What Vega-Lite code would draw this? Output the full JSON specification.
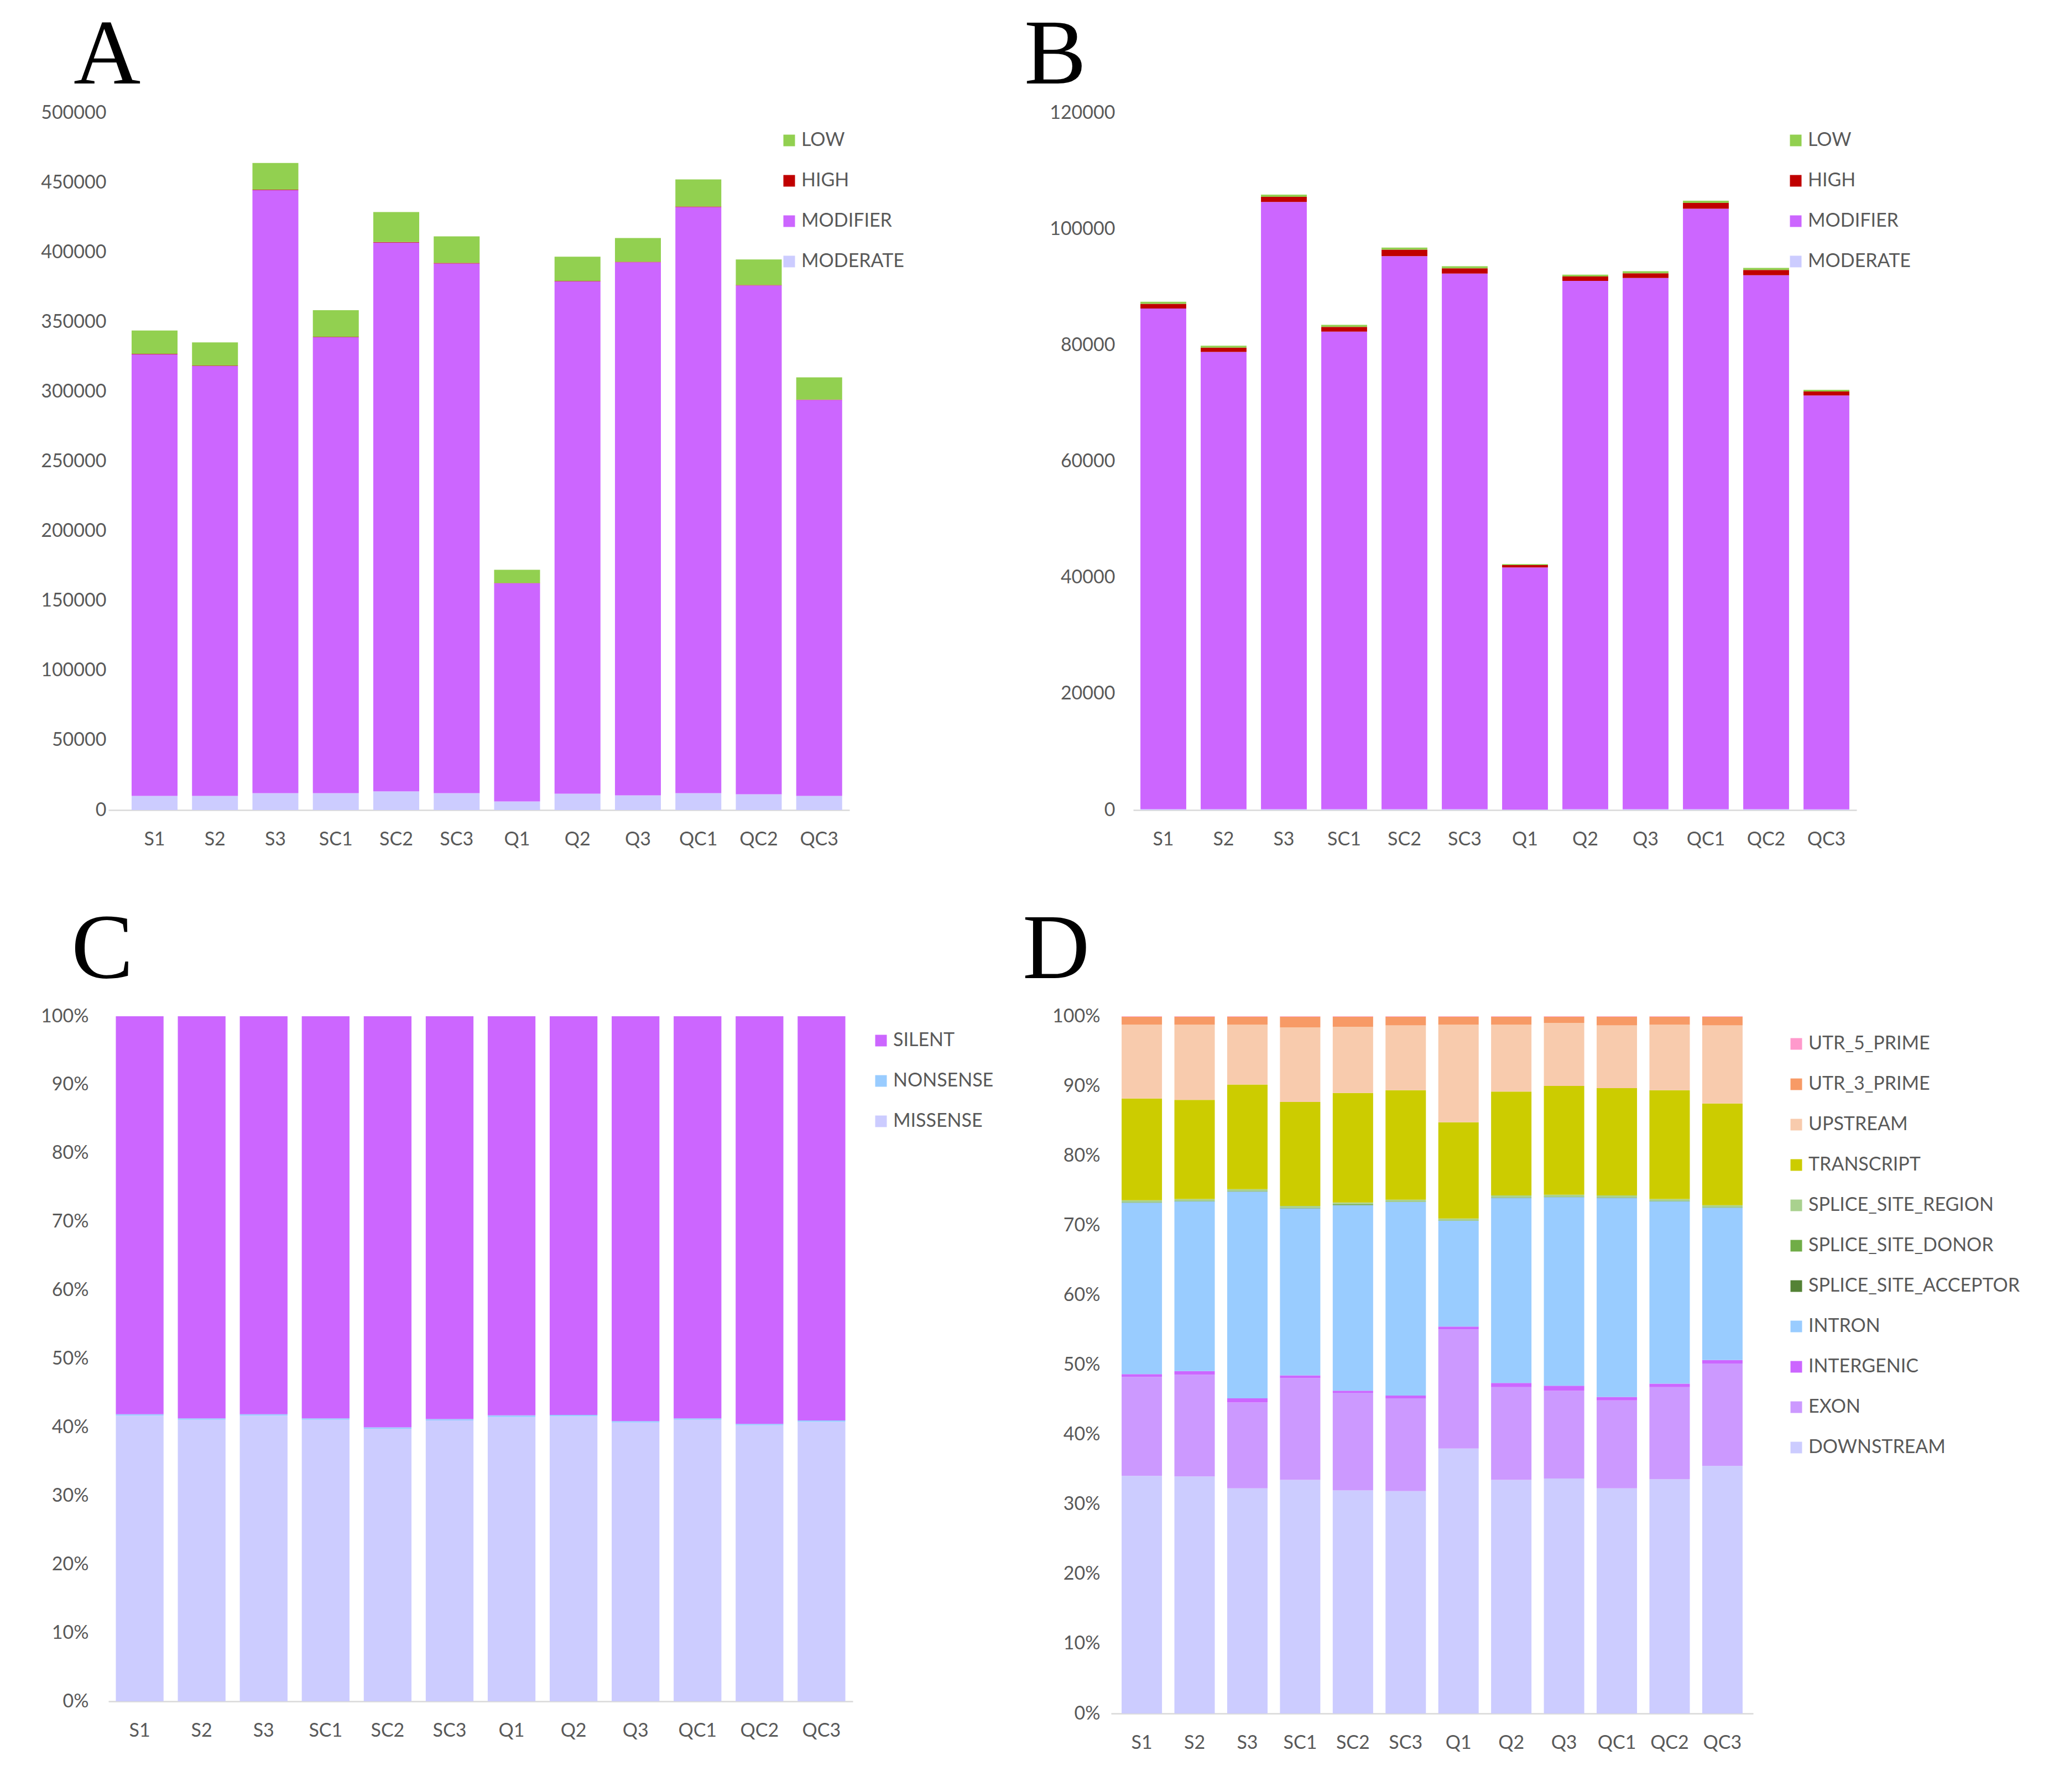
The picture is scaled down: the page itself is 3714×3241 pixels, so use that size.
{
"$schema": "https://vega.github.io/schema/vega-lite/v6.json",
"background": "white",
"padding": {"left": 0, "top": 17, "right": 0, "bottom": 0},
"datasets": {
"A": [
{"sample":"S1","impact":"MODERATE","n":10100},{"sample":"S1","impact":"MODIFIER","n":316750},{"sample":"S1","impact":"HIGH","n":300},{"sample":"S1","impact":"LOW","n":16690},
{"sample":"S2","impact":"MODERATE","n":10100},{"sample":"S2","impact":"MODIFIER","n":308270},{"sample":"S2","impact":"HIGH","n":300},{"sample":"S2","impact":"LOW","n":16690},
{"sample":"S3","impact":"MODERATE","n":12100},{"sample":"S3","impact":"MODIFIER","n":432480},{"sample":"S3","impact":"HIGH","n":350},{"sample":"S3","impact":"LOW","n":19070},
{"sample":"SC1","impact":"MODERATE","n":12100},{"sample":"SC1","impact":"MODIFIER","n":326900},{"sample":"SC1","impact":"HIGH","n":300},{"sample":"SC1","impact":"LOW","n":19110},
{"sample":"SC2","impact":"MODERATE","n":13350},{"sample":"SC2","impact":"MODIFIER","n":393600},{"sample":"SC2","impact":"HIGH","n":350},{"sample":"SC2","impact":"LOW","n":21500},
{"sample":"SC3","impact":"MODERATE","n":12100},{"sample":"SC3","impact":"MODIFIER","n":379900},{"sample":"SC3","impact":"HIGH","n":350},{"sample":"SC3","impact":"LOW","n":19070},
{"sample":"Q1","impact":"MODERATE","n":6100},{"sample":"Q1","impact":"MODIFIER","n":156500},{"sample":"Q1","impact":"HIGH","n":150},{"sample":"Q1","impact":"LOW","n":9560},
{"sample":"Q2","impact":"MODERATE","n":11700},{"sample":"Q2","impact":"MODIFIER","n":367350},{"sample":"Q2","impact":"HIGH","n":300},{"sample":"Q2","impact":"LOW","n":17500},
{"sample":"Q3","impact":"MODERATE","n":10500},{"sample":"Q3","impact":"MODIFIER","n":382300},{"sample":"Q3","impact":"HIGH","n":300},{"sample":"Q3","impact":"LOW","n":17090},
{"sample":"QC1","impact":"MODERATE","n":12100},{"sample":"QC1","impact":"MODIFIER","n":420340},{"sample":"QC1","impact":"HIGH","n":350},{"sample":"QC1","impact":"LOW","n":19470},
{"sample":"QC2","impact":"MODERATE","n":11300},{"sample":"QC2","impact":"MODIFIER","n":364900},{"sample":"QC2","impact":"HIGH","n":300},{"sample":"QC2","impact":"LOW","n":18300},
{"sample":"QC3","impact":"MODERATE","n":10100},{"sample":"QC3","impact":"MODIFIER","n":284000},{"sample":"QC3","impact":"HIGH","n":250},{"sample":"QC3","impact":"LOW","n":15930}
],
"B": [
{"sample":"S1","impact":"MODERATE","n":150},{"sample":"S1","impact":"MODIFIER","n":86160},{"sample":"S1","impact":"HIGH","n":800},{"sample":"S1","impact":"LOW","n":365},
{"sample":"S2","impact":"MODERATE","n":150},{"sample":"S2","impact":"MODIFIER","n":78690},{"sample":"S2","impact":"HIGH","n":750},{"sample":"S2","impact":"LOW","n":318},
{"sample":"S3","impact":"MODERATE","n":150},{"sample":"S3","impact":"MODIFIER","n":104510},{"sample":"S3","impact":"HIGH","n":880},{"sample":"S3","impact":"LOW","n":380},
{"sample":"SC1","impact":"MODERATE","n":150},{"sample":"SC1","impact":"MODIFIER","n":82180},{"sample":"SC1","impact":"HIGH","n":820},{"sample":"SC1","impact":"LOW","n":345},
{"sample":"SC2","impact":"MODERATE","n":150},{"sample":"SC2","impact":"MODIFIER","n":95190},{"sample":"SC2","impact":"HIGH","n":1100},{"sample":"SC2","impact":"LOW","n":357},
{"sample":"SC3","impact":"MODERATE","n":150},{"sample":"SC3","impact":"MODIFIER","n":92180},{"sample":"SC3","impact":"HIGH","n":900},{"sample":"SC3","impact":"LOW","n":362},
{"sample":"Q1","impact":"MODERATE","n":80},{"sample":"Q1","impact":"MODIFIER","n":41670},{"sample":"Q1","impact":"HIGH","n":400},{"sample":"Q1","impact":"LOW","n":183},
{"sample":"Q2","impact":"MODERATE","n":150},{"sample":"Q2","impact":"MODIFIER","n":90920},{"sample":"Q2","impact":"HIGH","n":760},{"sample":"Q2","impact":"LOW","n":308},
{"sample":"Q3","impact":"MODERATE","n":150},{"sample":"Q3","impact":"MODIFIER","n":91410},{"sample":"Q3","impact":"HIGH","n":820},{"sample":"Q3","impact":"LOW","n":345},
{"sample":"QC1","impact":"MODERATE","n":150},{"sample":"QC1","impact":"MODIFIER","n":103350},{"sample":"QC1","impact":"HIGH","n":980},{"sample":"QC1","impact":"LOW","n":379},
{"sample":"QC2","impact":"MODERATE","n":150},{"sample":"QC2","impact":"MODIFIER","n":91890},{"sample":"QC2","impact":"HIGH","n":900},{"sample":"QC2","impact":"LOW","n":363},
{"sample":"QC3","impact":"MODERATE","n":120},{"sample":"QC3","impact":"MODIFIER","n":71240},{"sample":"QC3","impact":"HIGH","n":680},{"sample":"QC3","impact":"LOW","n":291}
],
"C": [
{"sample":"S1","effect":"MISSENSE","p":41.7},{"sample":"S1","effect":"NONSENSE","p":0.2},{"sample":"S1","effect":"SILENT","p":58.1},
{"sample":"S2","effect":"MISSENSE","p":41.1},{"sample":"S2","effect":"NONSENSE","p":0.2},{"sample":"S2","effect":"SILENT","p":58.7},
{"sample":"S3","effect":"MISSENSE","p":41.7},{"sample":"S3","effect":"NONSENSE","p":0.2},{"sample":"S3","effect":"SILENT","p":58.1},
{"sample":"SC1","effect":"MISSENSE","p":41.1},{"sample":"SC1","effect":"NONSENSE","p":0.2},{"sample":"SC1","effect":"SILENT","p":58.7},
{"sample":"SC2","effect":"MISSENSE","p":39.8},{"sample":"SC2","effect":"NONSENSE","p":0.2},{"sample":"SC2","effect":"SILENT","p":60.0},
{"sample":"SC3","effect":"MISSENSE","p":41.0},{"sample":"SC3","effect":"NONSENSE","p":0.2},{"sample":"SC3","effect":"SILENT","p":58.8},
{"sample":"Q1","effect":"MISSENSE","p":41.5},{"sample":"Q1","effect":"NONSENSE","p":0.25},{"sample":"Q1","effect":"SILENT","p":58.25},
{"sample":"Q2","effect":"MISSENSE","p":41.6},{"sample":"Q2","effect":"NONSENSE","p":0.2},{"sample":"Q2","effect":"SILENT","p":58.2},
{"sample":"Q3","effect":"MISSENSE","p":40.7},{"sample":"Q3","effect":"NONSENSE","p":0.2},{"sample":"Q3","effect":"SILENT","p":59.1},
{"sample":"QC1","effect":"MISSENSE","p":41.1},{"sample":"QC1","effect":"NONSENSE","p":0.2},{"sample":"QC1","effect":"SILENT","p":58.7},
{"sample":"QC2","effect":"MISSENSE","p":40.3},{"sample":"QC2","effect":"NONSENSE","p":0.2},{"sample":"QC2","effect":"SILENT","p":59.5},
{"sample":"QC3","effect":"MISSENSE","p":40.8},{"sample":"QC3","effect":"NONSENSE","p":0.2},{"sample":"QC3","effect":"SILENT","p":59.0}
],
"D": [
{"sample":"S1","region":"DOWNSTREAM","p":34.1},{"sample":"S1","region":"EXON","p":14.2},{"sample":"S1","region":"INTERGENIC","p":0.4},{"sample":"S1","region":"INTRON","p":24.6},{"sample":"S1","region":"SPLICE_SITE_ACCEPTOR","p":0.03},{"sample":"S1","region":"SPLICE_SITE_DONOR","p":0.04},{"sample":"S1","region":"SPLICE_SITE_REGION","p":0.28},{"sample":"S1","region":"TRANSCRIPT","p":14.6},{"sample":"S1","region":"UPSTREAM","p":10.6},{"sample":"S1","region":"UTR_3_PRIME","p":1.15},{"sample":"S1","region":"UTR_5_PRIME","p":0.05},
{"sample":"S2","region":"DOWNSTREAM","p":34.0},{"sample":"S2","region":"EXON","p":14.6},{"sample":"S2","region":"INTERGENIC","p":0.5},{"sample":"S2","region":"INTRON","p":24.35},{"sample":"S2","region":"SPLICE_SITE_ACCEPTOR","p":0.03},{"sample":"S2","region":"SPLICE_SITE_DONOR","p":0.04},{"sample":"S2","region":"SPLICE_SITE_REGION","p":0.28},{"sample":"S2","region":"TRANSCRIPT","p":14.2},{"sample":"S2","region":"UPSTREAM","p":10.8},{"sample":"S2","region":"UTR_3_PRIME","p":1.15},{"sample":"S2","region":"UTR_5_PRIME","p":0.05},
{"sample":"S3","region":"DOWNSTREAM","p":32.3},{"sample":"S3","region":"EXON","p":12.3},{"sample":"S3","region":"INTERGENIC","p":0.6},{"sample":"S3","region":"INTRON","p":29.65},{"sample":"S3","region":"SPLICE_SITE_ACCEPTOR","p":0.03},{"sample":"S3","region":"SPLICE_SITE_DONOR","p":0.04},{"sample":"S3","region":"SPLICE_SITE_REGION","p":0.28},{"sample":"S3","region":"TRANSCRIPT","p":15.0},{"sample":"S3","region":"UPSTREAM","p":8.6},{"sample":"S3","region":"UTR_3_PRIME","p":1.15},{"sample":"S3","region":"UTR_5_PRIME","p":0.05},
{"sample":"SC1","region":"DOWNSTREAM","p":33.5},{"sample":"SC1","region":"EXON","p":14.6},{"sample":"SC1","region":"INTERGENIC","p":0.4},{"sample":"SC1","region":"INTRON","p":23.95},{"sample":"SC1","region":"SPLICE_SITE_ACCEPTOR","p":0.03},{"sample":"SC1","region":"SPLICE_SITE_DONOR","p":0.04},{"sample":"SC1","region":"SPLICE_SITE_REGION","p":0.28},{"sample":"SC1","region":"TRANSCRIPT","p":14.9},{"sample":"SC1","region":"UPSTREAM","p":10.7},{"sample":"SC1","region":"UTR_3_PRIME","p":1.55},{"sample":"SC1","region":"UTR_5_PRIME","p":0.05},
{"sample":"SC2","region":"DOWNSTREAM","p":32.0},{"sample":"SC2","region":"EXON","p":14.0},{"sample":"SC2","region":"INTERGENIC","p":0.3},{"sample":"SC2","region":"INTRON","p":26.6},{"sample":"SC2","region":"SPLICE_SITE_ACCEPTOR","p":0.03},{"sample":"SC2","region":"SPLICE_SITE_DONOR","p":0.12},{"sample":"SC2","region":"SPLICE_SITE_REGION","p":0.25},{"sample":"SC2","region":"TRANSCRIPT","p":15.7},{"sample":"SC2","region":"UPSTREAM","p":9.5},{"sample":"SC2","region":"UTR_3_PRIME","p":1.45},{"sample":"SC2","region":"UTR_5_PRIME","p":0.05},
{"sample":"SC3","region":"DOWNSTREAM","p":31.9},{"sample":"SC3","region":"EXON","p":13.3},{"sample":"SC3","region":"INTERGENIC","p":0.4},{"sample":"SC3","region":"INTRON","p":27.75},{"sample":"SC3","region":"SPLICE_SITE_ACCEPTOR","p":0.03},{"sample":"SC3","region":"SPLICE_SITE_DONOR","p":0.04},{"sample":"SC3","region":"SPLICE_SITE_REGION","p":0.28},{"sample":"SC3","region":"TRANSCRIPT","p":15.7},{"sample":"SC3","region":"UPSTREAM","p":9.3},{"sample":"SC3","region":"UTR_3_PRIME","p":1.25},{"sample":"SC3","region":"UTR_5_PRIME","p":0.05},
{"sample":"Q1","region":"DOWNSTREAM","p":38.0},{"sample":"Q1","region":"EXON","p":17.1},{"sample":"Q1","region":"INTERGENIC","p":0.4},{"sample":"Q1","region":"INTRON","p":15.15},{"sample":"Q1","region":"SPLICE_SITE_ACCEPTOR","p":0.03},{"sample":"Q1","region":"SPLICE_SITE_DONOR","p":0.04},{"sample":"Q1","region":"SPLICE_SITE_REGION","p":0.28},{"sample":"Q1","region":"TRANSCRIPT","p":13.8},{"sample":"Q1","region":"UPSTREAM","p":14.0},{"sample":"Q1","region":"UTR_3_PRIME","p":1.15},{"sample":"Q1","region":"UTR_5_PRIME","p":0.05},
{"sample":"Q2","region":"DOWNSTREAM","p":33.5},{"sample":"Q2","region":"EXON","p":13.3},{"sample":"Q2","region":"INTERGENIC","p":0.6},{"sample":"Q2","region":"INTRON","p":26.55},{"sample":"Q2","region":"SPLICE_SITE_ACCEPTOR","p":0.03},{"sample":"Q2","region":"SPLICE_SITE_DONOR","p":0.04},{"sample":"Q2","region":"SPLICE_SITE_REGION","p":0.28},{"sample":"Q2","region":"TRANSCRIPT","p":14.9},{"sample":"Q2","region":"UPSTREAM","p":9.6},{"sample":"Q2","region":"UTR_3_PRIME","p":1.15},{"sample":"Q2","region":"UTR_5_PRIME","p":0.05},
{"sample":"Q3","region":"DOWNSTREAM","p":33.7},{"sample":"Q3","region":"EXON","p":12.6},{"sample":"Q3","region":"INTERGENIC","p":0.7},{"sample":"Q3","region":"INTRON","p":27.05},{"sample":"Q3","region":"SPLICE_SITE_ACCEPTOR","p":0.03},{"sample":"Q3","region":"SPLICE_SITE_DONOR","p":0.04},{"sample":"Q3","region":"SPLICE_SITE_REGION","p":0.28},{"sample":"Q3","region":"TRANSCRIPT","p":15.6},{"sample":"Q3","region":"UPSTREAM","p":9.05},{"sample":"Q3","region":"UTR_3_PRIME","p":0.9},{"sample":"Q3","region":"UTR_5_PRIME","p":0.05},
{"sample":"QC1","region":"DOWNSTREAM","p":32.3},{"sample":"QC1","region":"EXON","p":12.6},{"sample":"QC1","region":"INTERGENIC","p":0.5},{"sample":"QC1","region":"INTRON","p":28.55},{"sample":"QC1","region":"SPLICE_SITE_ACCEPTOR","p":0.03},{"sample":"QC1","region":"SPLICE_SITE_DONOR","p":0.04},{"sample":"QC1","region":"SPLICE_SITE_REGION","p":0.28},{"sample":"QC1","region":"TRANSCRIPT","p":15.4},{"sample":"QC1","region":"UPSTREAM","p":9.0},{"sample":"QC1","region":"UTR_3_PRIME","p":1.25},{"sample":"QC1","region":"UTR_5_PRIME","p":0.05},
{"sample":"QC2","region":"DOWNSTREAM","p":33.6},{"sample":"QC2","region":"EXON","p":13.2},{"sample":"QC2","region":"INTERGENIC","p":0.5},{"sample":"QC2","region":"INTRON","p":26.15},{"sample":"QC2","region":"SPLICE_SITE_ACCEPTOR","p":0.03},{"sample":"QC2","region":"SPLICE_SITE_DONOR","p":0.04},{"sample":"QC2","region":"SPLICE_SITE_REGION","p":0.28},{"sample":"QC2","region":"TRANSCRIPT","p":15.6},{"sample":"QC2","region":"UPSTREAM","p":9.4},{"sample":"QC2","region":"UTR_3_PRIME","p":1.15},{"sample":"QC2","region":"UTR_5_PRIME","p":0.05},
{"sample":"QC3","region":"DOWNSTREAM","p":35.5},{"sample":"QC3","region":"EXON","p":14.7},{"sample":"QC3","region":"INTERGENIC","p":0.5},{"sample":"QC3","region":"INTRON","p":21.85},{"sample":"QC3","region":"SPLICE_SITE_ACCEPTOR","p":0.03},{"sample":"QC3","region":"SPLICE_SITE_DONOR","p":0.04},{"sample":"QC3","region":"SPLICE_SITE_REGION","p":0.28},{"sample":"QC3","region":"TRANSCRIPT","p":14.6},{"sample":"QC3","region":"UPSTREAM","p":11.2},{"sample":"QC3","region":"UTR_3_PRIME","p":1.25},{"sample":"QC3","region":"UTR_5_PRIME","p":0.05}
]
},
"concat": [
{"hconcat": [
{
"width": 1340, "height": 1261,
"title": {"text": "A", "dx": -63, "offset": 1},
"data": {"name": "A"},
"transform": [{"calculate": "indexof(['MODERATE','MODIFIER','HIGH','LOW'], datum.impact)", "as": "k"}],
"mark": {"type": "bar"},
"encoding": {
"x": {"field": "sample", "type": "nominal", "sort": ["S1","S2","S3","SC1","SC2","SC3","Q1","Q2","Q3","QC1","QC2","QC3"], "scale": {"paddingInner": 0.24, "paddingOuter": 0.2527, "align": 0.76}, "axis": {"title": null, "labelAngle": 0, "labelPadding": 36}},
"y": {"field": "n", "type": "quantitative", "stack": "zero", "scale": {"domain": [0, 500000], "nice": false}, "axis": {"title": null, "values": [0,50000,100000,150000,200000,250000,300000,350000,400000,450000,500000], "format": "d", "domain": false, "labelPadding": 4, "minExtent": 196, "maxExtent": 196}},
"color": {"field": "impact", "type": "nominal", "scale": {"domain": ["LOW","HIGH","MODIFIER","MODERATE"], "range": ["#92D050","#C00000","#CC66FF","#CCCCFF"]}, "legend": {"title": null, "orient": "none", "legendX": 1214, "legendY": 33}},
"order": {"field": "k", "type": "quantitative", "sort": "ascending"}
}
},
{
"width": 1308, "height": 1261,
"title": {"text": "B", "dx": -197, "offset": 1},
"data": {"name": "B"},
"transform": [{"calculate": "indexof(['MODERATE','MODIFIER','HIGH','LOW'], datum.impact)", "as": "k"}],
"mark": {"type": "bar"},
"encoding": {
"x": {"field": "sample", "type": "nominal", "sort": ["S1","S2","S3","SC1","SC2","SC3","Q1","Q2","Q3","QC1","QC2","QC3"], "scale": {"paddingInner": 0.24, "paddingOuter": 0.12}, "axis": {"title": null, "labelAngle": 0, "labelPadding": 36}},
"y": {"field": "n", "type": "quantitative", "stack": "zero", "scale": {"domain": [0, 120000], "nice": false}, "axis": {"title": null, "values": [0,20000,40000,60000,80000,100000,120000], "format": "d", "domain": false, "labelPadding": 33}},
"color": {"field": "impact", "type": "nominal", "scale": {"domain": ["LOW","HIGH","MODIFIER","MODERATE"], "range": ["#92D050","#C00000","#CC66FF","#CCCCFF"]}, "legend": {"title": null, "orient": "none", "legendX": 1181, "legendY": 33}},
"order": {"field": "k", "type": "quantitative", "sort": "ascending"}
}
}
], "bounds": "flush", "spacing": 513, "resolve": {"scale": {"color": "independent"}, "legend": {"color": "independent"}}},
{"hconcat": [
{
"width": 1346, "height": 1239,
"title": {"text": "C", "dx": -67, "offset": 18},
"data": {"name": "C"},
"mark": {"type": "bar"},
"encoding": {
"x": {"field": "sample", "type": "nominal", "sort": ["S1","S2","S3","SC1","SC2","SC3","Q1","Q2","Q3","QC1","QC2","QC3"], "scale": {"paddingInner": 0.23, "paddingOuter": 0.12}, "axis": {"title": null, "labelAngle": 0, "labelPadding": 36}},
"y": {"field": "p", "type": "quantitative", "stack": "normalize", "axis": {"title": null, "values": [0,0.1,0.2,0.3,0.4,0.5,0.6,0.7,0.8,0.9,1], "format": ".0%", "domain": false, "labelPadding": 36, "minExtent": 196, "maxExtent": 196}},
"color": {"field": "effect", "type": "nominal", "scale": {"domain": ["SILENT","NONSENSE","MISSENSE"], "range": ["#CC66FF","#99CCFF","#CCCCFF"]}, "legend": {"title": null, "orient": "none", "legendX": 1380, "legendY": 27}},
"order": {"field": "effect", "type": "nominal", "sort": "ascending"}
}
},
{
"width": 1161, "height": 1261,
"title": {"text": "D", "dx": -160, "offset": 17},
"data": {"name": "D"},
"mark": {"type": "bar"},
"encoding": {
"x": {"field": "sample", "type": "nominal", "sort": ["S1","S2","S3","SC1","SC2","SC3","Q1","Q2","Q3","QC1","QC2","QC3"], "scale": {"paddingInner": 0.235, "paddingOuter": 0.2}, "axis": {"title": null, "labelAngle": 0, "labelPadding": 36}},
"y": {"field": "p", "type": "quantitative", "stack": "normalize", "axis": {"title": null, "values": [0,0.1,0.2,0.3,0.4,0.5,0.6,0.7,0.8,0.9,1], "format": ".0%", "domain": false, "labelPadding": 20}},
"color": {"field": "region", "type": "nominal", "scale": {"domain": ["UTR_5_PRIME","UTR_3_PRIME","UPSTREAM","TRANSCRIPT","SPLICE_SITE_REGION","SPLICE_SITE_DONOR","SPLICE_SITE_ACCEPTOR","INTRON","INTERGENIC","EXON","DOWNSTREAM"], "range": ["#FF99CC","#F79A66","#F8CBAD","#CCCC00","#A9D18E","#70AD47","#548235","#99CCFF","#CC66FF","#CC99FF","#CCCCFF"]}, "legend": {"title": null, "orient": "none", "legendX": 1222, "legendY": 33}},
"order": {"field": "region", "type": "nominal", "sort": "ascending"}
}
}
], "bounds": "flush", "spacing": 467, "resolve": {"scale": {"color": "independent"}, "legend": {"color": "independent"}}}
],
"columns": 1,
"align": "none",
"spacing": 99,
"resolve": {"scale": {"color": "independent"}, "legend": {"color": "independent"}},
"config": {
"view": {"stroke": null},
"axis": {"labelFont": "Lato", "labelFontSize": 34, "labelColor": "#595959", "ticks": false, "tickSize": 0, "grid": false, "domainColor": "#D9D9D9", "domainWidth": 2.5},
"legend": {"labelFont": "Lato", "labelFontSize": 34, "labelColor": "#595959", "symbolType": "square", "symbolSize": 441, "symbolStrokeWidth": 0, "rowPadding": 39, "labelOffset": 5, "padding": 0, "labelLimit": 600},
"title": {"font": "Liberation Serif", "fontSize": 168, "fontWeight": "normal", "color": "#000000", "anchor": "start", "frame": "group", "baseline": "alphabetic"}
}
}
